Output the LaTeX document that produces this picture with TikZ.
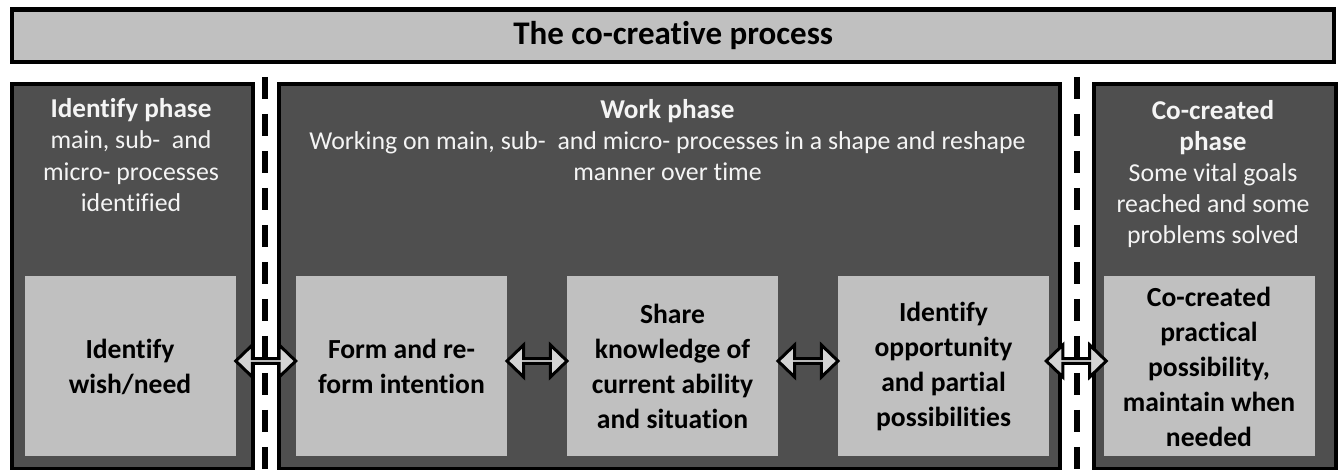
\documentclass[tikz,border=0pt]{standalone}
\usepackage{fontspec}
\setmainfont{Carlito}[Ligatures=NoCommon]
\usetikzlibrary{shapes.arrows, calc, positioning}
\definecolor{panelgray}{HTML}{4F4F4F}
\definecolor{boxgray}{HTML}{C0C0C0}
\definecolor{arrowgray}{HTML}{D4D4D4}
\definecolor{softwhite}{HTML}{F4F4F4}
\newcommand{\phasehead}{\fontsize{13.6}{15.6}\selectfont\bfseries}

\begin{document}
\begin{tikzpicture}[x=0.5pt, y=-0.5pt,
    panel/.style={draw=black, line width=2pt, fill=panelgray, anchor=north west,
      minimum height=192.5pt, inner sep=0pt},
    stepbox/.style={fill=boxgray, minimum width=105.5pt, minimum height=90pt,
      align=center, inner sep=2pt, font=\fontsize{13.8}{17.5}\selectfont\bfseries},
    phasetext/.style={text=softwhite, align=center, font=\fontsize{12.9}{15.6}\selectfont},
    divider/.style={line width=3pt, dash pattern=on 11pt off 7.5pt},
    dblarr/.style={double arrow, draw=black, line width=1.5pt, fill=arrowgray,
      minimum width=16pt, minimum height=30pt, double arrow head extend=4.5pt,
      double arrow tip angle=88, inner sep=0pt}]
  \useasboundingbox (0,0) rectangle (1340,470);

  % title bar
  \node[draw=black, line width=2.2pt, fill=boxgray, anchor=north west, inner sep=0pt,
    minimum width=661pt, minimum height=26.25pt] (title) at (10,7.5) {};
  \node[font=\fontsize{16.5}{19}\selectfont\bfseries] (titletext) at (title.center) {The co-creative process};

  % dashed dividers
  \coordinate (d1t) at (265,77);  \coordinate (d1b) at (265,470);
  \coordinate (d2t) at (1077,77); \coordinate (d2b) at (1077,470);
  \draw[divider] (d1t) -- (d1b);
  \draw[divider] (d2t) -- (d2b);

  % phases
  \node[panel, minimum width=120.5pt] (identify) at (10,82) {};
  \node[panel, minimum width=390.5pt] (work) at (277,82) {};
  \node[panel, minimum width=121pt] (cocreated) at (1092,82) {};

  \node[phasetext] (identifytext) at (131,155)
    {{\phasehead Identify phase}\\main, sub-~ and\\micro- processes\\identified};
  \node[phasetext] (worktext) at (667.5,140)
    {{\phasehead Work phase}\\Working on main, sub-~ and micro- processes in a shape and reshape\\manner over time};
  \node[phasetext] (cocreatedtext) at (1213,174)
    {{\phasehead Co-created}\\{\phasehead phase}\\Some vital goals\\reached and some\\problems solved};

  % steps
  \node[stepbox] (b1) at (130,366.5) {Identify\\wish/need};
  \node[stepbox] (b2) at (401.5,366.5) {Form and re-\\form intention};
  \node[stepbox] (b3) at (672.5,366.5) {Share\\knowledge of\\current ability\\and situation};
  \node[stepbox] (b4) at (943.5,366.5) {Identify\\opportunity\\and partial\\possibilities};
  \node[stepbox] (b5) at (1209,366.5) {Co-created\\practical\\possibility,\\maintain when\\needed};

  \foreach \a/\b in {b1/b2, b2/b3, b3/b4, b4/b5}
    \node[dblarr] (\a\b) at ($(\a.east)!0.5!(\b.west) + (0,-5.5)$) {};
\end{tikzpicture}
\end{document}
